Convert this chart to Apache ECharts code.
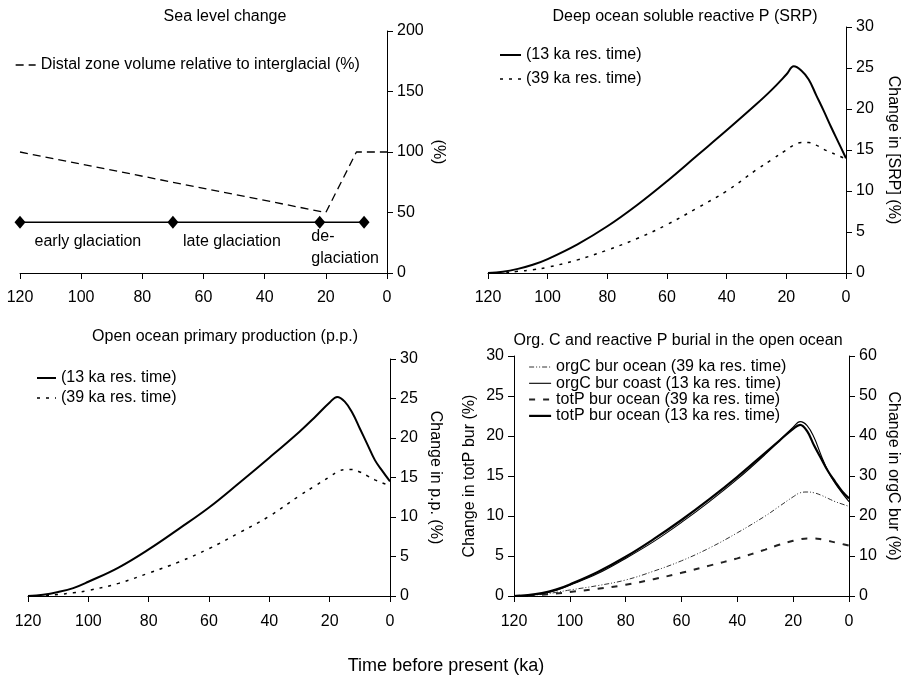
<!DOCTYPE html>
<html>
<head>
<meta charset="utf-8">
<script src="https://cdn.jsdelivr.net/npm/echarts@6/dist/echarts.min.js"></script>
<style>html,body{margin:0;padding:0;background:#fff;}#c{width:904px;height:675px;}</style>
</head>
<body>
<div id="c"></div>
<script>
// ---------- data ----------
const xTicks = [0, 20, 40, 60, 80, 100, 120];
const time = [120,115,110,105,100,90,80,70,60,50,40,30,25,20,17.5,15,12.5,10,7.5,5,2.5,0];

// Panel 1: sea level
const seaTime = [120, 20, 10, 0];
const seaVol = [100, 50, 100, 100];
const phaseTime = [120, 70, 22, 7.5];
const phaseLevel = [42, 42, 42, 42];
const phaseNames = ['early glaciation', 'late glaciation', 'de-\nglaciation'];
const phaseNameTime = [97.8, 50.7, 24.9];
const phaseNameLevel = [26, 26, 21];

// Panel 2: deep ocean SRP (%)
const srp13 = [0,0.15,0.5,1.0,1.7,3.5,5.7,8.3,11.2,14.3,17.4,20.6,22.3,24.2,25.2,24.7,23.6,21.7,19.8,17.8,15.9,14.0];
const srp39 = [0,0.05,0.2,0.4,0.7,1.6,2.8,4.2,5.9,7.9,10.0,12.6,13.8,15.0,15.6,15.9,15.9,15.6,15.1,14.7,14.3,13.9];

// Panel 3: open ocean primary production (%)
const pp13 = [0,0.15,0.5,1.0,1.8,3.6,5.9,8.5,11.2,14.3,17.5,20.8,22.6,24.5,25.2,24.6,23.2,21.2,19.2,17.2,15.8,14.5];
const pp39 = [0,0.05,0.2,0.4,0.7,1.6,2.9,4.3,6.0,8.0,10.1,12.7,13.9,15.1,15.7,16.0,16.0,15.7,15.2,14.7,14.3,14.0];

// Panel 4: burial (%)
const orgCocean39 = [0,0.1,0.4,0.9,1.5,2.6,4.0,6.2,8.8,12.0,15.8,20.0,22.4,24.8,25.8,26.0,25.8,25.2,24.4,23.6,23.0,22.4];
const orgCcoast13 = [0,0.2,0.6,1.4,2.7,5.6,9.4,13.6,18.4,23.6,29.2,35.4,38.8,42.2,43.6,42.6,39.6,35.2,31.2,28.2,25.8,23.6];
const totPocean39 = [0,0.05,0.15,0.3,0.5,0.9,1.4,2.1,2.9,3.8,4.7,5.8,6.4,6.9,7.1,7.2,7.2,7.1,6.9,6.7,6.5,6.3];
const totPocean13 = [0,0.1,0.35,0.8,1.45,3.0,4.9,7.1,9.5,12.1,14.9,17.9,19.4,20.9,21.4,20.6,18.8,17.2,15.6,14.3,13.1,12.2];

const titles = ['Sea level change', 'Deep ocean soluble reactive P (SRP)', 'Open ocean primary production (p.p.)', 'Org. C and reactive P burial in the open ocean'];
const xTitle = 'Time before present (ka)';

// ---------- chart ----------
const FONT = '"Liberation Sans", Arial, sans-serif';
const FS = 16;
const pair = (xs, ys) => xs.map((x, i) => [x, ys[i]]);

function xAx(gi, margin) {
  return {
    type: 'value', gridIndex: gi, inverse: true, min: xTicks[0], max: xTicks[xTicks.length - 1], interval: 20,
    axisLine: { show: true, onZero: false, lineStyle: { color: '#000', width: 1 } },
    axisTick: { show: true, length: 6, lineStyle: { color: '#000' } },
    axisLabel: { color: '#000', fontFamily: FONT, fontSize: FS, margin: margin },
    splitLine: { show: false }
  };
}
function yAx(gi, pos, max, interval, name, rot, gap) {
  return {
    type: 'value', gridIndex: gi, position: pos, min: 0, max: max, interval: interval,
    name: name, nameLocation: 'middle', nameRotate: rot, nameGap: gap,
    nameTextStyle: { color: '#000', fontFamily: FONT, fontSize: FS },
    axisLine: { show: true, onZero: false, lineStyle: { color: '#000', width: 1 } },
    axisTick: { show: true, length: 6, lineStyle: { color: '#000' } },
    axisLabel: { color: '#000', fontFamily: FONT, fontSize: FS, margin: 10 },
    splitLine: { show: false }
  };
}
function curve(name, xi, yi, data, width, type, color) {
  return {
    name: name, type: 'line', xAxisIndex: xi, yAxisIndex: yi, data: pair(time, data),
    smooth: 0.4, symbol: 'none', silent: true,
    lineStyle: { color: color || '#000', width: width, type: type },
    itemStyle: { color: color || '#000' }
  };
}
const legendText = { color: '#000', fontFamily: FONT, fontSize: FS };
const titleStyle = { fontWeight: 'normal', fontFamily: FONT, fontSize: FS, color: '#000' };
function legend(names, left, top, w, gap) {
  return {
    data: names, left: left, top: top, orient: 'vertical', padding: 0,
    itemWidth: w, itemHeight: 14, itemGap: gap,
    textStyle: legendText, selectedMode: false,
    itemStyle: { opacity: 0 },
    lineStyle: { width: 'inherit', type: 'inherit' }
  };
}

const option = {
  animation: false,
  backgroundColor: '#fff',
  title: [
    { text: titles[0], left: 225, top: 9, padding: 0, textAlign: 'center', textStyle: titleStyle },
    { text: titles[1], left: 685, top: 9, padding: 0, textAlign: 'center', textStyle: titleStyle },
    { text: titles[2], left: 225, top: 329, padding: 0, textAlign: 'center', textStyle: titleStyle },
    { text: titles[3], left: 678, top: 333, padding: 0, textAlign: 'center', textStyle: titleStyle },
    { text: xTitle, left: 446, top: 657, padding: 0, textAlign: 'center', textStyle: Object.assign({}, titleStyle, { fontSize: 18 }) }
  ],
  grid: [
    { left: 20, right: 517, top: 31, bottom: 402 },
    { left: 488, right: 58, top: 27, bottom: 402 },
    { left: 28, right: 514, top: 359, bottom: 79 },
    { left: 514, right: 55, top: 356, bottom: 79 }
  ],
  legend: [
    legend(['Distal zone volume relative to interglacial (%)'], 15, 57, 20, 0),
    legend(['(13 ka res. time)', '(39 ka res. time)'], 499, 47, 21, 8),
    legend(['(13 ka res. time)', '(39 ka res. time)'], 36, 370, 19, 4),
    legend(['orgC bur ocean (39 ka res. time)', 'orgC bur coast (13 ka res. time)', 'totP bur ocean (39 ka res. time)', 'totP bur ocean (13 ka res. time)'], 528, 359, 22, 0.3)
  ],
  xAxis: [xAx(0, 17), xAx(1, 17), xAx(2, 18), xAx(3, 18)],
  yAxis: [
    yAx(0, 'right', 200, 50, '(%)', -90, 43),
    yAx(1, 'right', 30, 5, 'Change in [SRP] (%)', -90, 39),
    yAx(2, 'right', 30, 5, 'Change in p.p. (%)', -90, 37),
    yAx(3, 'left', 30, 5, 'Change in totP bur (%)', 90, 36),
    yAx(3, 'right', 60, 10, 'Change in orgC bur (%)', -90, 36)
  ],
  series: [
    {
      name: 'Distal zone volume relative to interglacial (%)', type: 'line', xAxisIndex: 0, yAxisIndex: 0,
      data: pair(seaTime, seaVol), symbol: 'none', silent: true,
      lineStyle: { color: '#000', width: 1.3, type: [8, 5] }, itemStyle: { color: '#000' }
    },
    {
      name: 'phases', type: 'line', xAxisIndex: 0, yAxisIndex: 0,
      data: pair(phaseTime, phaseLevel), symbol: 'diamond', symbolSize: [11, 13], showSymbol: true, silent: true,
      lineStyle: { color: '#000', width: 1.5 }, itemStyle: { color: '#000' }
    },
    {
      name: 'phase labels', type: 'scatter', xAxisIndex: 0, yAxisIndex: 0, symbolSize: 1, silent: true,
      itemStyle: { color: 'rgba(0,0,0,0)', opacity: 1 },
      data: phaseNames.map((n, i) => ({
        value: [phaseNameTime[i], phaseNameLevel[i]],
        label: {
          show: true, formatter: n, color: '#000', fontFamily: FONT, fontSize: FS,
          position: i === 2 ? 'right' : 'inside', distance: 0, align: i === 2 ? 'left' : 'center', lineHeight: 22
        }
      }))
    },
    curve('(39 ka res. time)', 1, 1, srp39, 1.5, [3, 6]),
    curve('(13 ka res. time)', 1, 1, srp13, 2),
    curve('(39 ka res. time)', 2, 2, pp39, 1.5, [3, 6]),
    curve('(13 ka res. time)', 2, 2, pp13, 2),
    curve('orgC bur ocean (39 ka res. time)', 3, 4, orgCocean39, 1, [5, 2, 1, 2, 1, 2], '#333'),
    curve('orgC bur coast (13 ka res. time)', 3, 4, orgCcoast13, 1.1),
    curve('totP bur ocean (39 ka res. time)', 3, 3, totPocean39, 2, [6, 8], '#222'),
    curve('totP bur ocean (13 ka res. time)', 3, 3, totPocean13, 2.2)
  ]
};
const chart = echarts.init(document.getElementById('c'), null, { renderer: 'canvas' });
chart.setOption(option);
</script>
</body>
</html>
